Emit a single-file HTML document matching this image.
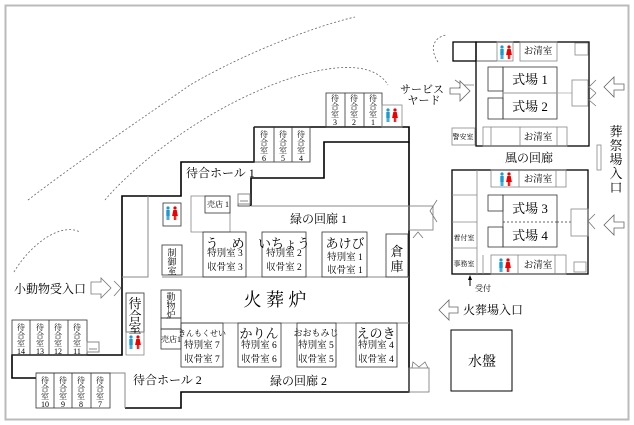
<!DOCTYPE html>
<html><head><meta charset="utf-8"><style>
html,body{margin:0;padding:0;background:#fff}
svg{display:block}
text{font-family:"Liberation Serif","Noto Serif CJK SC","Noto Sans CJK JP",serif;fill:#000}
</style></head><body>
<svg width="634" height="425" viewBox="0 0 634 425" xmlns="http://www.w3.org/2000/svg">
<defs>
<g id="wc">
 <circle cx="4" cy="2" r="1.6" fill="#1a9bd0"/><rect x="2.3" y="4" width="3.4" height="6" fill="#1a9bd0"/><rect x="2.6" y="9" width="1.2" height="5" fill="#1a9bd0"/><rect x="4.2" y="9" width="1.2" height="5" fill="#1a9bd0"/>
 <circle cx="11" cy="2" r="1.6" fill="#e00"/><path d="M9.3 4h3.4l1.2 6h-5.8z" fill="#e00"/><rect x="9.8" y="10" width="1.1" height="4" fill="#e00"/><rect x="11.2" y="10" width="1.1" height="4" fill="#e00"/>
</g>
<g id="bath"><rect x="0" y="0" width="12" height="10" fill="none" stroke="#888" stroke-width="1"/><path d="M2 7h8" stroke="#888"/></g>
</defs>
<rect x="5.5" y="5.5" width="623" height="414" fill="none" stroke="#bbb" stroke-width="2"/>
<g fill="none" stroke="#666" stroke-width="0.8" stroke-dasharray="2,2">
<path d="M28 200 C80 160 140 120 190 85 C250 50 320 25 355 17"/>
<path d="M105 200 C130 170 190 120 260 90 C310 68 370 55 388 85"/>
<path d="M438 62 C430 50 432 38 446 35"/>
<path d="M14 272 C30 245 60 222 80 232"/>
</g>

<g fill="none" stroke="#000" stroke-width="1.6">
<path d="M254 127 H409 V142 H324 V178 H251 V206"/>
<path d="M254 127 V162 H181 V196 H122 V355 H12 V378 H36"/>
<path d="M409 142 V392 H181 V408 H125"/>
</g>
<g fill="none" stroke="#888" stroke-width="1">
<path d="M251 206 H409"/>
<path d="M148 196 V277 H122"/>
<path d="M162 277 H409"/>
<path d="M181 323 H409"/>
<path d="M36 373 H125 V408"/>
</g>
<g fill="none" stroke="#333" stroke-width="0.8">
<rect x="326" y="93" width="56" height="34"/><path d="M345 93V127M364 93V127"/>
<rect x="382" y="105" width="20" height="22" stroke="#888"/>
<rect x="254" y="127" width="56" height="35"/><path d="M274 127V162M292 127V162"/>
<rect x="163" y="203" width="18" height="23"/>
<rect x="191" y="196" width="39" height="36" stroke="#888"/><rect x="205" y="196" width="25" height="17"/>
<rect x="238" y="194" width="12" height="12"/>
<rect x="203" y="232" width="43" height="45"/>
<rect x="262" y="232" width="44" height="45"/>
<rect x="322" y="232" width="45" height="45"/>
<rect x="386" y="234" width="22" height="43"/>
<rect x="162" y="245" width="20" height="30"/>
<rect x="181" y="323" width="42" height="44"/>
<rect x="238" y="323" width="43" height="44"/>
<rect x="297" y="323" width="39" height="44"/>
<rect x="356" y="323" width="41" height="44"/>
<rect x="161" y="290" width="20" height="28"/><rect x="161" y="318" width="20" height="11"/><rect x="161" y="329" width="20" height="20"/>
<rect x="126" y="293" width="18" height="39"/><rect x="126" y="332" width="18" height="23" stroke="#888"/>
<rect x="12" y="320" width="75" height="35"/><path d="M30 320V355M49 320V355M68 320V355"/>
<rect x="36" y="373" width="74" height="35"/><path d="M54 373V408M72 373V408M91 373V408"/>
<rect x="409" y="206" width="24" height="24" stroke="#777"/>
<path d="M437 200 L430 211 L437 222" stroke="#777"/>
<path d="M413 238 L418 232 L423 238" stroke="#777"/>
<rect x="409" y="368" width="20" height="24" stroke="#777"/>
<path d="M412 368 L413 362 L419 367 L425 362 L428 368" stroke="#777"/>
<path d="M114 281 L121 288 L114 296" stroke="#777"/>
<path d="M91 282 H101 V278 L111 288 L101 298 V294 H91 Z" stroke="#777"/>
</g>
<use href="#bath" x="87" y="342"/>
<use href="#bath" x="238" y="194"/>
<use href="#wc" x="384" y="108"/>
<use href="#wc" x="164" y="206"/>
<use href="#wc" x="127" y="335"/>

<g fill="none" stroke="#333" stroke-width="0.8">
<rect x="476" y="42" width="113" height="104" stroke="#000" stroke-width="1.3"/>
<rect x="453" y="42" width="23" height="19" stroke="#000" stroke-width="1.3"/>
<path d="M476 61 H497"/>
<rect x="497" y="42" width="16" height="19" stroke="#888"/>
<rect x="520" y="42" width="37" height="19" stroke="#888"/>
<rect x="575" y="43" width="13" height="12" stroke="#888"/>
<rect x="483" y="127" width="84" height="19" stroke="#888"/>
<path d="M491 127V146M520 127V146M557 127V146" stroke="#888"/>
<rect x="452" y="128" width="23" height="17" stroke="#888"/>
<rect x="503" y="67" width="54" height="52"/><path d="M503 93H557"/>
<rect x="488" y="67" width="15" height="24"/><rect x="488" y="98" width="15" height="21"/>
<path d="M503 93 H572" stroke="#aaa"/>
<rect x="572" y="80" width="16" height="26" stroke="#888"/>
<path d="M596 80 L589 87 L596 93 M596 93 L589 100 L596 106" stroke="#777"/>
<path d="M462 85 L455 80 M462 85 L455 92 M462 85 H474" stroke="#777"/>

<rect x="452" y="170" width="136" height="104" stroke="#000" stroke-width="1.3"/>
<path d="M477 170V274M452 195H477M452 222H477M452 248H477" stroke="#888"/>
<rect x="491" y="170" width="75" height="17" stroke="#888"/><path d="M519 170V187M556 170V187" stroke="#888"/>
<rect x="491" y="255" width="75" height="19" stroke="#888"/><path d="M518 255V274M555 255V274M483 255V274" stroke="#888"/>
<rect x="503" y="195" width="54" height="52"/><path d="M503 222H557" stroke-dasharray="2,2"/>
<rect x="488" y="195" width="15" height="16"/><rect x="488" y="227" width="15" height="20"/>
<path d="M557 222 H571" stroke-dasharray="2,2"/>
<rect x="571" y="209" width="17" height="27" stroke="#888"/>
<path d="M595 214 L588 221 L595 229" stroke="#777"/>
<rect x="574" y="262" width="12" height="10" stroke="#888"/>
<rect x="597" y="145" width="4" height="25" stroke="#888"/>
<rect x="451" y="330" width="61" height="61" stroke="#000" stroke-width="1"/>
</g>
<g fill="#fff" stroke="#666" stroke-width="0.8">
<path d="M450 88 H460 V81 L470 91 L460 101 V94 H450 Z"/>
<path d="M624 84 H614 V77 L604 87 L614 97 V90 H624 Z"/>
<path d="M624 222 H614 V215 L604 225 L614 235 V228 H624 Z"/>
<path d="M458 307 H449 V300 L439 310 L449 320 V313 H458 Z"/>
</g>
<path d="M470 286 V277" stroke="#000" stroke-width="1"/><path d="M468 280 L470 275 L472 280Z" fill="#000"/>
<use href="#wc" x="498" y="45"/>
<use href="#wc" x="498" y="172"/>
<use href="#wc" x="497" y="258"/>

<g font-size="8" text-anchor="middle">
<text x="335" y="101">待</text><text x="335" y="109">合</text><text x="335" y="117">室</text><text x="335" y="125">3</text>
<text x="354" y="101">待</text><text x="354" y="109">合</text><text x="354" y="117">室</text><text x="354" y="125">2</text>
<text x="373" y="101">待</text><text x="373" y="109">合</text><text x="373" y="117">室</text><text x="373" y="125">1</text>
<text x="264" y="137">待</text><text x="264" y="145">合</text><text x="264" y="153">室</text><text x="264" y="161">6</text>
<text x="283" y="137">待</text><text x="283" y="145">合</text><text x="283" y="153">室</text><text x="283" y="161">5</text>
<text x="301" y="137">待</text><text x="301" y="145">合</text><text x="301" y="153">室</text><text x="301" y="161">4</text>
<text x="21" y="330">待</text><text x="21" y="338">合</text><text x="21" y="346">室</text><text x="21" y="354">14</text>
<text x="40" y="330">待</text><text x="40" y="338">合</text><text x="40" y="346">室</text><text x="40" y="354">13</text>
<text x="58" y="330">待</text><text x="58" y="338">合</text><text x="58" y="346">室</text><text x="58" y="354">12</text>
<text x="77" y="330">待</text><text x="77" y="338">合</text><text x="77" y="346">室</text><text x="77" y="354">11</text>
<text x="45" y="383">待</text><text x="45" y="391">合</text><text x="45" y="399">室</text><text x="45" y="407">10</text>
<text x="63" y="383">待</text><text x="63" y="391">合</text><text x="63" y="399">室</text><text x="63" y="407">9</text>
<text x="81" y="383">待</text><text x="81" y="391">合</text><text x="81" y="399">室</text><text x="81" y="407">8</text>
<text x="100" y="383">待</text><text x="100" y="391">合</text><text x="100" y="399">室</text><text x="100" y="407">7</text>
<text x="172" y="256" font-size="9">制</text><text x="172" y="265" font-size="9">御</text><text x="172" y="274" font-size="9">室</text>
<text x="171" y="300" font-size="9">動</text><text x="171" y="309" font-size="9">物</text><text x="171" y="318" font-size="9">炉</text>
<text x="171" y="342">売店1</text>
<text x="218" y="207">売店 1</text>
<text x="463" y="139" font-size="7">警安室</text>
<text x="464" y="240" font-size="7">着付室</text>
<text x="464" y="266" font-size="7">事務室</text>
<text x="483" y="291">受付</text>
</g>
<g font-size="9.5" text-anchor="middle">
<text x="225" y="256">特別室 3</text><text x="225" y="270">収骨室 3</text>
<text x="284" y="256">特別室 2</text><text x="284" y="270">収骨室 2</text>
<text x="345" y="260">特別室 1</text><text x="345" y="273">収骨室 1</text>
<text x="202" y="348">特別室 7</text><text x="202" y="362">収骨室 7</text>
<text x="259" y="348">特別室 6</text><text x="259" y="362">収骨室 6</text>
<text x="316" y="348">特別室 5</text><text x="316" y="362">収骨室 5</text>
<text x="376" y="348">特別室 4</text><text x="376" y="362">収骨室 4</text>
<text x="538" y="54">お清室</text><text x="538" y="140">お清室</text>
<text x="538" y="182">お清室</text><text x="538" y="268">お清室</text>
</g>
<g font-size="13" text-anchor="middle">
<text x="225" y="248">う　め</text>
<text x="284" y="248">いちょう</text>
<text x="345" y="248">あけび</text>
<text x="397" y="256">倉</text><text x="397" y="271">庫</text>
<text x="259" y="338">かりん</text>
<text x="376" y="338">えのき</text>
<text x="135" y="308">待</text><text x="135" y="321">合</text><text x="135" y="333">室</text>
<text x="530" y="84">式場 1</text><text x="530" y="111">式場 2</text>
<text x="530" y="213">式場 3</text><text x="530" y="240">式場 4</text>
<text x="482" y="366" font-size="14">水盤</text>
</g>
<text x="202" y="336" font-size="8" text-anchor="middle">きんもくせい</text>
<text x="316" y="336" font-size="9" text-anchor="middle">おおもみじ</text>
<text x="275" y="306" font-size="18" text-anchor="middle">火 葬 炉</text>
<g font-size="12">
<text x="290" y="223">緑の回廊 1</text>
<text x="270" y="385">緑の回廊 2</text>
<text x="186" y="177">待合ホール 1</text>
<text x="133" y="384">待合ホール 2</text>
<text x="14" y="293">小動物受入口</text>
<text x="463" y="314">火葬場入口</text>
<text x="505" y="162">風の回廊</text>
</g>
<g font-size="11" text-anchor="middle">
<text x="422" y="93">サービス</text><text x="424" y="104">ヤード</text>
</g>
<g font-size="13" text-anchor="middle">
<text x="616" y="136">葬</text><text x="616" y="150">祭</text><text x="616" y="164">場</text><text x="616" y="178">入</text><text x="616" y="192">口</text>
</g>
</svg>
</body></html>
